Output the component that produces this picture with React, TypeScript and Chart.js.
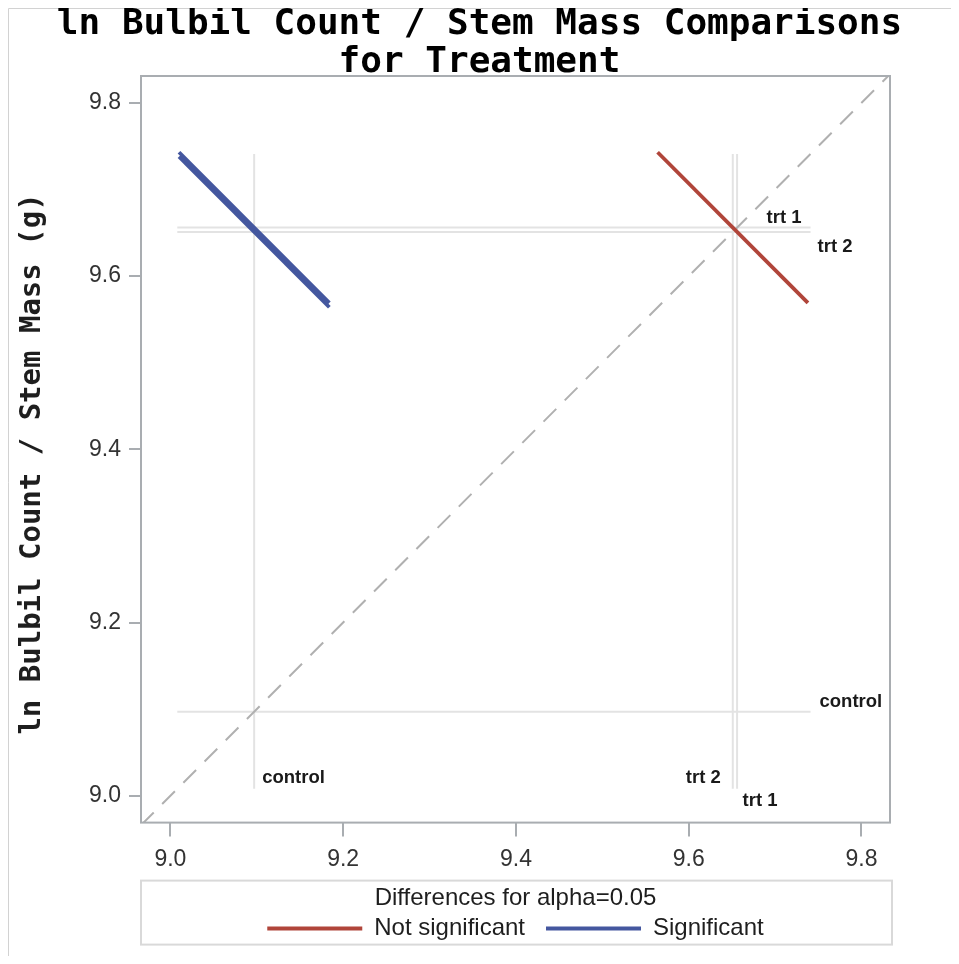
import React, { useEffect, useRef } from 'react';
import { Chart, registerables } from 'chart.js';

Chart.register(...registerables);

// Treatment levels and their means of ln(bulbil count / stem mass)
const levels = ['control', 'trt 1', 'trt 2'];
const levelMeans = [9.097, 9.656, 9.651];

// Pairwise comparisons: each drawn as a slope -1 segment (start -> end)
const pairNames = ['control vs trt 1', 'control vs trt 2', 'trt 2 vs trt 1'];
const pairStartX = [9.010, 9.010, 9.564];
const pairStartY = [9.743, 9.738, 9.743];
const pairEndX = [9.184, 9.184, 9.738];
const pairEndY = [9.569, 9.564, 9.569];
const pairSignificant = [true, true, false];

// Extent of the light reference lines through each mean
const refLineRange = [9.008, 9.741];

// Axis extents and ticks
const xRange = [8.966, 9.833];
const yRange = [8.969, 9.831];
const tickValues = [9.0, 9.2, 9.4, 9.6, 9.8];

// Legend entries
const legendNames = ['Not significant', 'Significant'];

const RED = '#b0453a';
const BLUE = '#44579f';
const FRAME = '#a9adb1';
const SANS = '"Liberation Sans", Arial, Helvetica, sans-serif';
const MONO = '"DejaVu Sans Mono", monospace';

// Name labels beside the reference lines (pixel offsets from the line ends)
const verticalLabelPlacement = [
  { dx: 8, dy: -11, align: 'left' },
  { dx: 5.5, dy: 12, align: 'left' },
  { dx: -12, dy: -11, align: 'right' },
];
const horizontalLabelPlacement = [
  { dx: 9, dy: -10, align: 'left' },
  { dx: -44, dy: -9.5, align: 'left' },
  { dx: 7, dy: 15, align: 'left' },
];

const decorPlugin = {
  id: 'diffogramDecor',
  beforeDraw(chart: any) {
    const ctx = chart.ctx;
    ctx.save();
    ctx.strokeStyle = '#d2d2d2';
    ctx.lineWidth = 1;
    ctx.beginPath();
    ctx.moveTo(0.5, chart.height);
    ctx.lineTo(0.5, 0.5);
    ctx.lineTo(chart.width, 0.5);
    ctx.stroke();
    ctx.restore();
  },
  afterDatasetsDraw(chart: any) {
    const ctx = chart.ctx;
    const xs = chart.scales.x;
    const ys = chart.scales.y;
    ctx.save();
    ctx.font = `bold 18.5px ${SANS}`;
    ctx.fillStyle = '#1a1a1a';
    ctx.textBaseline = 'middle';
    levels.forEach((name, i) => {
      const vx = xs.getPixelForValue(levelMeans[i]);
      const vy = ys.getPixelForValue(refLineRange[0]);
      const vp = verticalLabelPlacement[i];
      ctx.textAlign = vp.align;
      ctx.fillText(name, vx + vp.dx, vy + vp.dy);
      const hx = xs.getPixelForValue(refLineRange[1]);
      const hy = ys.getPixelForValue(levelMeans[i]);
      const hp = horizontalLabelPlacement[i];
      ctx.textAlign = hp.align;
      ctx.fillText(name, hx + hp.dx, hy + hp.dy);
    });
    ctx.restore();
  },
  afterDraw(chart: any) {
    const ctx = chart.ctx;
    const ca = chart.chartArea;
    ctx.save();
    // plot frame
    ctx.strokeStyle = FRAME;
    ctx.lineWidth = 2;
    ctx.strokeRect(ca.left, ca.top, ca.right - ca.left, ca.bottom - ca.top);
    // legend frame
    const lg = chart.legend;
    ctx.strokeStyle = '#d9d9d9';
    ctx.strokeRect(ca.left, lg.top + 8, ca.right + 2 - ca.left, 64);
    // vertical axis title
    ctx.translate(31.5, 456);
    ctx.rotate(-Math.PI / 2);
    ctx.font = `bold 29px ${MONO}`;
    ctx.fillStyle = '#1e1e1e';
    ctx.textAlign = 'center';
    ctx.textBaseline = 'alphabetic';
    ctx.fillText('ln Bulbil Count / Stem Mass (g)', 0, 0);
    ctx.restore();
  },
};

export default function App() {
  const ref = useRef<HTMLCanvasElement>(null);

  useEffect(() => {
    const canvas = ref.current;
    if (!canvas) return;

    const datasets: any[] = [];

    pairNames.forEach((name, i) => {
      const color = pairSignificant[i] ? BLUE : RED;
      datasets.push({
        label: name,
        data: [
          { x: pairStartX[i], y: pairStartY[i] },
          { x: pairEndX[i], y: pairEndY[i] },
        ],
        borderColor: color,
        backgroundColor: color,
        borderWidth: 3.8,
        borderCapStyle: 'butt',
        showLine: true,
        pointRadius: 0,
        order: 1,
      });
    });

    datasets.push({
      label: 'diagonal',
      data: [
        { x: xRange[0], y: xRange[0] },
        { x: xRange[1], y: xRange[1] },
      ],
      borderColor: '#b0b0b0',
      borderWidth: 2,
      borderDash: [18, 12],
      showLine: true,
      pointRadius: 0,
      order: 2,
    });

    levels.forEach((name, i) => {
      datasets.push({
        label: name + ' vertical',
        data: [
          { x: levelMeans[i], y: refLineRange[0] },
          { x: levelMeans[i], y: refLineRange[1] },
        ],
        borderColor: '#e3e3e3',
        borderWidth: 2,
        showLine: true,
        pointRadius: 0,
        order: 3,
      });
      datasets.push({
        label: name + ' horizontal',
        data: [
          { x: refLineRange[0], y: levelMeans[i] },
          { x: refLineRange[1], y: levelMeans[i] },
        ],
        borderColor: '#e3e3e3',
        borderWidth: 2,
        showLine: true,
        pointRadius: 0,
        order: 3,
      });
    });

    const tickFont = { family: SANS, size: 23 };

    const chart = new Chart(canvas, {
      type: 'scatter',
      data: { datasets },
      options: {
        animation: false,
        responsive: false,
        events: [],
        layout: { padding: { top: 0, left: 0, right: 0, bottom: 5.6 } },
        scales: {
          x: {
            type: 'linear',
            min: xRange[0],
            max: xRange[1],
            afterBuildTicks: (scale: any) => {
              scale.ticks = tickValues.map((v) => ({ value: v }));
            },
            afterFit: (scale: any) => {
              scale.height = 50;
            },
            ticks: {
              font: tickFont,
              color: '#333',
              padding: 9,
              maxRotation: 0,
              autoSkip: false,
              callback: (v: any) => Number(v).toFixed(1),
            },
            grid: {
              display: true,
              drawOnChartArea: false,
              drawTicks: true,
              tickLength: 14,
              color: FRAME,
              lineWidth: 2,
            },
            border: { display: false },
          },
          y: {
            type: 'linear',
            min: yRange[0],
            max: yRange[1],
            afterBuildTicks: (scale: any) => {
              scale.ticks = tickValues.map((v) => ({ value: v }));
            },
            afterFit: (scale: any) => {
              scale.width = 133;
            },
            ticks: {
              font: tickFont,
              color: '#333',
              padding: 8,
              autoSkip: false,
              callback: (v: any) => Number(v).toFixed(1),
            },
            grid: {
              display: true,
              drawOnChartArea: false,
              drawTicks: true,
              tickLength: 12,
              color: FRAME,
              lineWidth: 2,
            },
            border: { display: false },
          },
          // empty margin axis on the right, keeps the title centred on the page
          yMargin: {
            type: 'linear',
            position: 'right',
            display: true,
            min: yRange[0],
            max: yRange[1],
            afterFit: (scale: any) => {
              scale.width = 61;
            },
            ticks: { display: false },
            grid: { display: false },
            border: { display: false },
          },
        },
        plugins: {
          tooltip: { enabled: false },
          title: {
            display: true,
            text: ['ln Bulbil Count / Stem Mass Comparisons', 'for Treatment'],
            color: '#000',
            font: { family: MONO, size: 36, weight: 'bold', lineHeight: '38px' },
            padding: { top: -2, bottom: -6 },
          },
          legend: {
            display: true,
            position: 'bottom',
            fullSize: false,
            title: {
              display: true,
              text: 'Differences for alpha=0.05',
              color: '#1e1e1e',
              font: { family: SANS, size: 24 },
              padding: { top: 14, bottom: -20 },
            },
            labels: {
              color: '#1e1e1e',
              font: { family: SANS, size: 24 },
              boxWidth: 95,
              boxHeight: 4,
              padding: 21,
              generateLabels: () =>
                legendNames.map((text, i) => ({
                  text,
                  fillStyle: i === 0 ? RED : BLUE,
                  strokeStyle: i === 0 ? RED : BLUE,
                  lineWidth: 0,
                  hidden: false,
                  datasetIndex: i === 0 ? 2 : 0,
                })),
            },
          },
        },
      },
      plugins: [decorPlugin],
    } as any);

    return () => chart.destroy();
  }, []);

  return (
    <canvas
      ref={ref}
      width={943}
      height={948}
      style={{ display: 'block', width: 943, height: 948 }}
    />
  );
}
